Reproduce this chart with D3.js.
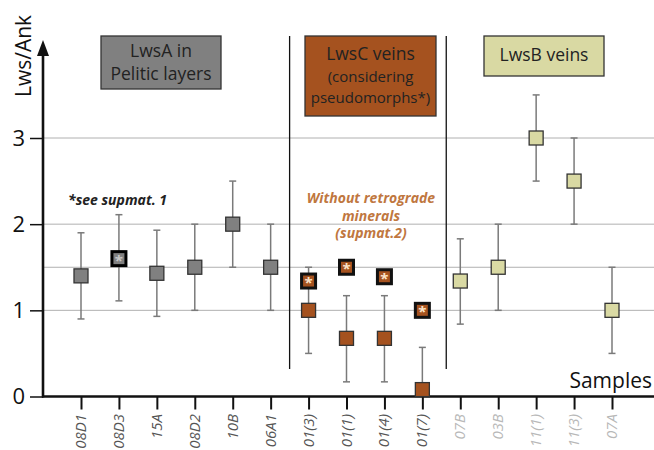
<!DOCTYPE html>
<html>
<meta charset="utf-8">
<head>
  <title>Lws/Ank per sample</title>
</head>

<style>
body { margin: 0; background: white; }
text { font-family: "Open Sans", "Noto Sans", sans-serif; }
.grid line { stroke: #b0b0b0; stroke-width: 1; }
.bar { stroke: #7a7a7a; stroke-width: 1.5; }
.xlab { font-style: italic; font-size: 15px; }
</style>

<body>
  <svg width="654" height="450"></svg>

  <script src="https://cdnjs.cloudflare.com/ajax/libs/d3/7.8.5/d3.min.js"></script>
  <script>
// samples along x, grouped by vein type
var samples = ['08D1', '08D3', '15A', '08D2', '10B', '06A1',
  '01(3)', '01(1)', '01(4)', '01(7)',
  '07B', '03B', '11(1)', '11(3)', '07A'];
var groups = ['A', 'A', 'A', 'A', 'A', 'A', 'C', 'C', 'C', 'C', 'B', 'B', 'B', 'B', 'B'];

// Lws/Ank ratio and error range
var values = [1.4, 1.6, 1.43, 1.5, 2.0, 1.5, 1.0, 0.675, 0.675, 0.08, 1.34, 1.5, 3.0, 2.5, 1.0];
var lows   = [0.9, 1.11, 0.93, 1.0, 1.5, 1.0, 0.5, 0.17, 0.17, 0, 0.84, 1.0, 2.5, 2.0, 0.5];
var highs  = [1.9, 2.11, 1.93, 2.0, 2.5, 2.0, 1.5, 1.17, 1.17, 0.57, 1.83, 2.0, 3.5, 3.0, 1.5];
var flagged = ['08D3']; // see supmat. 1

// LwsC without retrograde minerals
var noRetroSamples = ['01(3)', '01(1)', '01(4)', '01(7)'];
var noRetroValues  = [1.34, 1.5, 1.39, 1.0];

var yTicks = [0, 1, 2, 3];
var gridValues = [1, 1.5, 2, 3];

var fills = { A: '#808080', C: '#a5521f', B: '#d9d9a3' };

var svg = d3.select('svg');

var x = d3.scalePoint().domain(samples).range([81, 612]);
var y = d3.scaleLinear().domain([0, 3]).range([396.5, 138]);
var x0 = 43;

// gridlines
svg.append('g').attr('class', 'grid')
  .selectAll('line').data(gridValues).enter().append('line')
  .attr('x1', x0).attr('x2', 654)
  .attr('y1', function(d) { return y(d); })
  .attr('y2', function(d) { return y(d); });

// group separators
var step = x.step();
[x('06A1') + step * 0.5, x('01(7)') + step * 0.63].forEach(function(sx) {
  svg.append('line')
    .attr('x1', sx).attr('x2', sx).attr('y1', 36).attr('y2', 369)
    .attr('stroke', '#111').attr('stroke-width', 1.3);
});

// y axis
var yAxis = svg.append('g')
  .attr('transform', 'translate(' + x0 + ',0)')
  .call(d3.axisLeft(y).tickValues(yTicks).tickSize(13).tickPadding(5).tickFormat(d3.format('d')));
yAxis.select('.domain').remove();
yAxis.selectAll('.tick line').attr('stroke', '#111').attr('stroke-width', 1.5);
yAxis.selectAll('.tick text')
  .attr('font-size', 22).attr('fill', '#111').style('font-family', '"Open Sans", sans-serif');

svg.append('line')
  .attr('x1', x0).attr('x2', x0).attr('y1', y(0) + 1).attr('y2', 52)
  .attr('stroke', '#111').attr('stroke-width', 2.6);
svg.append('path')
  .attr('d', 'M' + x0 + ',40 L' + (x0 - 6) + ',56 L' + (x0 + 6) + ',56 Z')
  .attr('fill', '#111');

svg.append('text')
  .attr('transform', 'translate(31,56) rotate(-90)')
  .attr('text-anchor', 'middle')
  .attr('font-size', 21).attr('fill', '#111')
  .text('Lws/Ank');

// x axis
var xAxis = svg.append('g')
  .attr('transform', 'translate(0,' + y(0) + ')')
  .call(d3.axisBottom(x).tickSize(13).tickFormat(''));
xAxis.select('.domain').remove();
xAxis.selectAll('.tick line').attr('stroke', '#111').attr('stroke-width', 2);
svg.append('line')
  .attr('x1', x0 - 1).attr('x2', 654).attr('y1', y(0)).attr('y2', y(0))
  .attr('stroke', '#111').attr('stroke-width', 2.6);

svg.selectAll('.xlab').data(samples).enter().append('text')
  .attr('class', 'xlab')
  .attr('transform', function(d) { return 'translate(' + (x(d) + 5) + ',414) rotate(-90)'; })
  .attr('text-anchor', 'end')
  .attr('fill', function(d, i) { return groups[i] === 'B' ? '#b8b8b8' : '#555'; })
  .text(function(d) { return d; });

svg.append('text')
  .attr('x', 652).attr('y', 388).attr('text-anchor', 'end')
  .attr('font-size', 21).attr('fill', '#111')
  .text('Samples');

// error bars
var bars = svg.append('g');
samples.forEach(function(s, i) {
  var cx = x(s);
  bars.append('line').attr('class', 'bar')
    .attr('x1', cx).attr('x2', cx).attr('y1', y(highs[i])).attr('y2', y(lows[i]));
  [highs[i], lows[i]].forEach(function(v) {
    if (v <= 0) return;
    bars.append('line').attr('class', 'bar')
      .attr('x1', cx - 3.5).attr('x2', cx + 3.5).attr('y1', y(v)).attr('y2', y(v))
      .attr('stroke', '#555');
  });
});

// markers
var ms = 14;
samples.forEach(function(s, i) {
  var cx = x(s), cy = y(values[i]);
  var special = flagged.indexOf(s) >= 0;
  svg.append('rect')
    .attr('x', cx - ms / 2).attr('y', cy - ms / 2)
    .attr('width', ms).attr('height', ms)
    .attr('fill', fills[groups[i]])
    .attr('stroke', special ? '#000' : '#333')
    .attr('stroke-width', special ? 3 : 1.3);
  if (special) {
    svg.append('text')
      .attr('x', cx).attr('y', cy + 7).attr('text-anchor', 'middle')
      .attr('font-size', 15).attr('fill', '#c8c8c8').attr('font-weight', 'bold')
      .text('*');
  }
});

noRetroSamples.forEach(function(s, i) {
  var cx = x(s), cy = y(noRetroValues[i]);
  svg.append('rect')
    .attr('x', cx - ms / 2).attr('y', cy - ms / 2)
    .attr('width', ms).attr('height', ms)
    .attr('fill', fills.C).attr('stroke', '#111').attr('stroke-width', 3);
  svg.append('text')
    .attr('x', cx).attr('y', cy + 7).attr('text-anchor', 'middle')
    .attr('font-size', 15).attr('fill', '#fbe3c8').attr('font-weight', 'bold')
    .text('*');
});

// group header boxes
var boxes = [
  { x: 101, y: 36, w: 120, h: 53, fill: fills.A, lines: [['LwsA in', 17.5, 57], ['Pelitic layers', 17.5, 80]] },
  { x: 305, y: 36, w: 131, h: 80, fill: fills.C, lines: [['LwsC veins', 17.5, 60], ['(considering', 15, 82], ['pseudomorphs*)', 15, 103]] },
  { x: 484, y: 36, w: 120, h: 40, fill: fills.B, lines: [['LwsB veins', 17.5, 61]] }
];
boxes.forEach(function(b) {
  svg.append('rect')
    .attr('x', b.x).attr('y', b.y).attr('width', b.w).attr('height', b.h)
    .attr('fill', b.fill).attr('stroke', '#333').attr('stroke-width', 1.3);
  b.lines.forEach(function(l) {
    svg.append('text')
      .attr('x', b.x + b.w / 2).attr('y', l[2]).attr('text-anchor', 'middle')
      .attr('font-size', l[1]).attr('fill', '#222')
      .text(l[0]);
  });
});

// notes
svg.append('text')
  .attr('x', 68).attr('y', 205)
  .attr('font-size', 14).attr('font-style', 'italic').attr('font-weight', 'bold').attr('fill', '#222')
  .text('*see supmat. 1');

['Without retrograde', 'minerals', '(supmat.2)'].forEach(function(t, i) {
  svg.append('text')
    .attr('x', 371).attr('y', 203 + i * 17.5).attr('text-anchor', 'middle')
    .attr('font-size', 14).attr('font-style', 'italic').attr('font-weight', 'bold').attr('fill', '#c0773f')
    .text(t);
});
  </script>
</body>
</html>
